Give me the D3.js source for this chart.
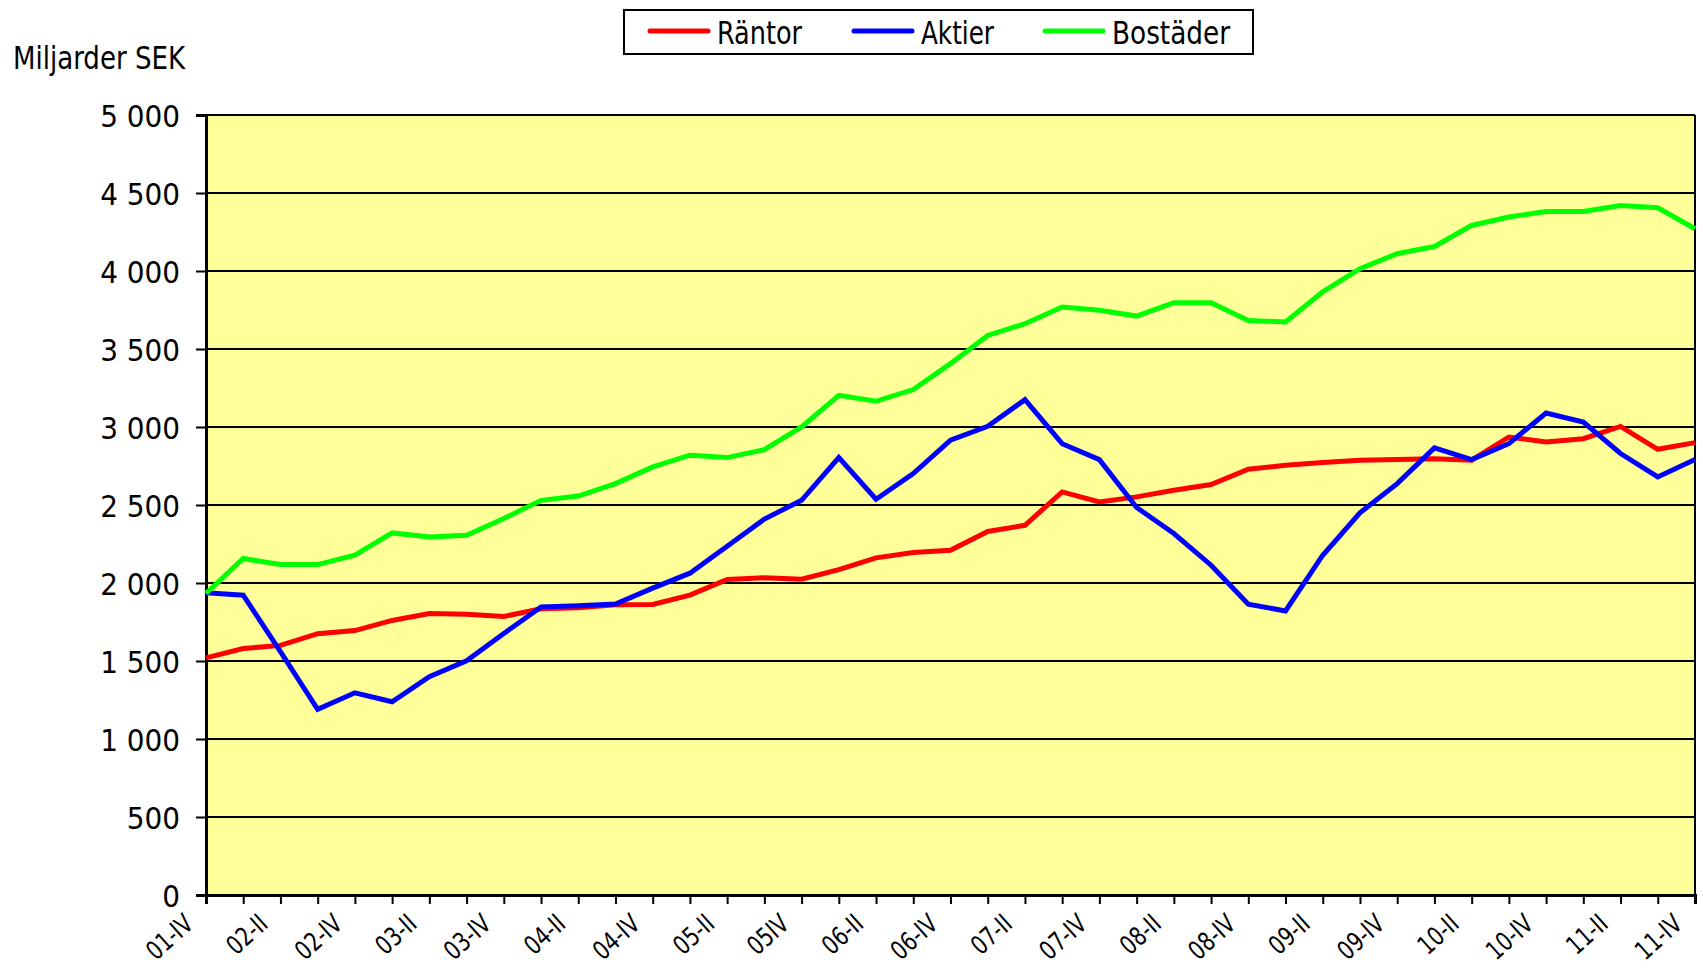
<!DOCTYPE html>
<html>
<head>
<meta charset="utf-8">
<script src="https://cdn.jsdelivr.net/npm/d3@7"></script>
<style>
  html, body { margin: 0; padding: 0; background: #ffffff; }
  svg text { font-family: "Liberation Sans Narrow", "DejaVu Sans Condensed", "Arial Narrow", sans-serif; fill: #000; }
</style>
</head>
<body>
<svg id="chart" width="1703" height="969"></svg>
<script>
// ---- Data ----
const quarters = ["01-IV",
  "02-I","02-II","02-III","02-IV",
  "03-I","03-II","03-III","03-IV",
  "04-I","04-II","04-III","04-IV",
  "05-I","05-II","05-III","05-IV",
  "06-I","06-II","06-III","06-IV",
  "07-I","07-II","07-III","07-IV",
  "08-I","08-II","08-III","08-IV",
  "09-I","09-II","09-III","09-IV",
  "10-I","10-II","10-III","10-IV",
  "11-I","11-II","11-III","11-IV"];

const tickLabels = ["01-IV","02-II","02-IV","03-II","03-IV","04-II","04-IV","05-II","05IV",
  "06-II","06-IV","07-II","07-IV","08-II","08-IV","09-II","09-IV","10-II","10-IV","11-II","11-IV"];

const rantor = [1520,1580,1600,1675,1695,1760,1805,1800,1785,1835,1842,1860,1862,1922,2022,2033,2024,2086,2161,2195,2210,
  2330,2370,2584,2520,2552,2594,2631,2729,2755,2772,2787,2791,2797,2787,2936,2904,2925,3004,2857,2900];
const aktier = [1937,1922,1560,1190,1296,1239,1399,1501,1676,1847,1854,1865,1967,2063,2235,2410,2530,2804,2537,2701,2915,
  3004,3175,2893,2791,2484,2317,2114,1864,1821,2178,2450,2637,2866,2791,2893,3090,3032,2830,2680,2791];
const bostader = [1933,2157,2118,2118,2178,2321,2295,2306,2413,2530,2557,2637,2744,2819,2804,2855,3000,3203,3165,3240,3406,
  3587,3662,3769,3748,3711,3797,3797,3683,3673,3866,4015,4111,4157,4292,4346,4382,4382,4420,4405,4271];

const seriesNames = ["Räntor","Aktier","Bostäder"];
const seriesColors = ["#ff0000","#0000ff","#00ff00"];
const yTicks = [0,500,1000,1500,2000,2500,3000,3500,4000,4500,5000];
const yTitle = "Miljarder SEK";

// ---- Layout ----
const svg = d3.select("#chart");
const L = 206, R = 1695, T = 115, B = 895;

const x = d3.scalePoint().domain(quarters).range([L, R]);
const y = d3.scaleLinear().domain([0, 5000]).range([B, T]);

const loc = d3.formatLocale({decimal: ",", thousands: " ", grouping: [3], currency: ["", ""]});
const fmt = loc.format(",");

// plot background
svg.append("rect").attr("x", L).attr("y", T).attr("width", R - L).attr("height", B - T)
  .attr("fill", "#ffff99");

// gridlines
svg.append("g").selectAll("line").data(yTicks.filter(d => d > 0)).join("line")
  .attr("x1", L).attr("x2", R).attr("y1", d => y(d)).attr("y2", d => y(d))
  .attr("stroke", "#000").attr("stroke-width", 2);

// right border
svg.append("line").attr("x1", R).attr("x2", R).attr("y1", T).attr("y2", B)
  .attr("stroke", "#000").attr("stroke-width", 2);

// y axis
const yAxis = svg.append("g").attr("transform", `translate(${L},0)`)
  .call(d3.axisLeft(y).tickValues(yTicks).tickFormat(fmt).tickSize(10).tickPadding(16));
yAxis.select(".domain").attr("stroke", "#000").attr("stroke-width", 3);
yAxis.selectAll(".tick line").attr("stroke", "#000").attr("stroke-width", 2);
yAxis.selectAll(".tick text").attr("font-size", 31).attr("dy", "0.36em")
  .style("font-family", '"Liberation Sans Narrow", "DejaVu Sans Condensed", sans-serif');

// x axis
const xAxis = svg.append("g").attr("transform", `translate(0,${B})`)
  .call(d3.axisBottom(x).tickSize(9).tickFormat(() => ""));
xAxis.select(".domain").attr("stroke", "#000").attr("stroke-width", 3);
xAxis.selectAll(".tick line").attr("stroke", "#000").attr("stroke-width", 2);

// x tick labels (every second quarter)
const labelQuarters = quarters.filter((q, i) => i % 2 === 0);
svg.append("g").selectAll("text").data(labelQuarters).join("text")
  .attr("transform", (q) => `translate(${x(q) - 11},${B + 31}) rotate(-42) scale(0.86,1)`)
  .attr("text-anchor", "end")
  .attr("font-size", 26)
  .text((q, i) => tickLabels[i]);

// lines
const allSeries = [rantor, aktier, bostader];
const line = d3.line().x((d, i) => x(quarters[i])).y(d => y(d));
svg.append("g").selectAll("path").data(allSeries).join("path")
  .attr("d", d => line(d))
  .attr("fill", "none")
  .attr("stroke", (d, i) => seriesColors[i])
  .attr("stroke-width", 5)
  .attr("stroke-linejoin", "miter");

// y title
svg.append("text").attr("x", 13).attr("y", 69).attr("font-size", 32)
  .attr("textLength", 172).attr("lengthAdjust", "spacingAndGlyphs").text(yTitle);

// legend
const lg = svg.append("g");
lg.append("rect").attr("x", 624).attr("y", 10).attr("width", 629).attr("height", 44)
  .attr("fill", "#fff").attr("stroke", "#000").attr("stroke-width", 2);
const legendX = [650, 854, 1045];
const legendLen = [85, 73, 118];
seriesNames.forEach((name, i) => {
  lg.append("line").attr("x1", legendX[i]).attr("x2", legendX[i] + 58)
    .attr("y1", 31).attr("y2", 31)
    .attr("stroke", seriesColors[i]).attr("stroke-width", 5).attr("stroke-linecap", "round");
  lg.append("text").attr("x", legendX[i] + 67).attr("y", 44).attr("font-size", 32)
    .attr("textLength", legendLen[i]).attr("lengthAdjust", "spacingAndGlyphs").text(name);
});
</script>
</body>
</html>
